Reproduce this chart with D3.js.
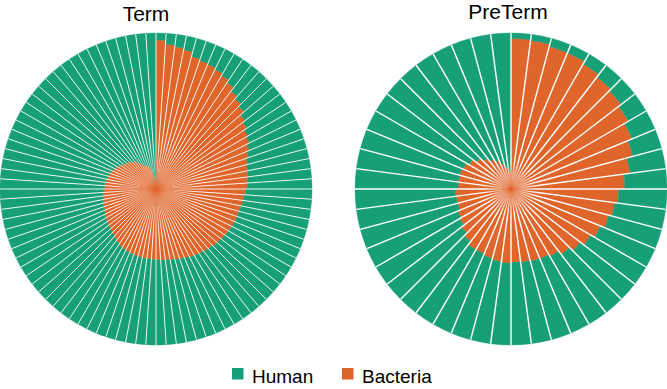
<html>
  <head>
    <script src="https://d3js.org/d3.v7.min.js"></script>
    <style>
      body{margin:0;background:#fff;}
      text{font-family:"Liberation Sans",Arial,sans-serif;}
    </style>
  </head>
  <body>
    <script>
      // bacteria share per sample, clockwise from 12 o'clock (human = 1 - bacteria)
      var termBacteria=[0.955,0.93,0.92,0.91,0.88,0.87,0.865,0.855,0.84,0.82,0.79,0.77,
                        0.75,0.72,0.70,0.68,0.67,0.65,0.63,0.61,0.60,0.595,0.59,0.585,
                        0.575,0.565,0.56,0.555,0.55,0.548,0.545,0.54,0.535,0.53,0.525,0.52,
                        0.51,0.505,0.50,0.495,0.49,0.48,0.475,0.47,0.465,0.46,0.458,0.455,
                        0.453,0.45,0.45,0.448,0.445,0.443,0.44,0.435,0.43,0.42,0.41,0.40,
                        0.39,0.385,0.38,0.375,0.37,0.36,0.355,0.35,0.345,0.34,0.34,0.335,
                        0.33,0.33,0.325,0.32,0.315,0.31,0.30,0.29,0.28,0.265,0.255,0.245,
                        0.235,0.225,0.21,0.19,0.175,0.165,0.155,0.15,0.13,0.10,0.08,0.05];
      var pretermBacteria=[0.965,0.96,0.946,0.944,0.925,0.905,0.89,0.87,0.84,0.81,0.77,0.73,
                           0.69,0.67,0.65,0.62,0.59,0.56,0.53,0.50,0.485,0.48,0.475,0.47,
                           0.475,0.47,0.46,0.45,0.45,0.425,0.40,0.38,0.37,0.355,0.355,0.355,
                           0.34,0.34,0.34,0.33,0.31,0.28,0.25,0.22,0.20,0.17,0.14,0.12];
      var groups=["Term","PreTerm"];
      var legendLabels=["Human","Bacteria"];
      var colors={Human:"#17a077",Bacteria:"#e0652b"};

      var svg=d3.select('body').append('svg')
                .attr('width',667)
                .attr('height',389);
      var defs=svg.append('defs');

      function drawPolar(values,cx,cy,radius,title,tx,ty,sw,fadeR,id)
      {
        var g=svg.append('g').attr('transform','translate('+cx+','+cy+')');
        var ang=d3.scaleBand().domain(d3.range(values.length)).range([0,2*Math.PI]).padding(0);
        var rad=d3.scaleLinear().domain([0,1]).range([0,radius]);
        var arc=d3.arc();

        values.forEach(function(b,i){
          var a0=ang(i),a1=a0+ang.bandwidth();
          g.append('path')
           .attr('d',arc({innerRadius:0,outerRadius:rad(b),startAngle:a0,endAngle:a1}))
           .attr('fill',colors.Bacteria)
           .attr('stroke',colors.Bacteria).attr('stroke-width',0.4);
          g.append('path')
           .attr('d',arc({innerRadius:rad(b),outerRadius:rad(1),startAngle:a0,endAngle:a1}))
           .attr('fill',colors.Human)
           .attr('stroke',colors.Human).attr('stroke-width',0.4);
        });

        // separators fade out towards the centre where they pile up
        var grad=defs.append('radialGradient').attr('id','fade'+id)
                     .attr('gradientUnits','userSpaceOnUse')
                     .attr('cx',0).attr('cy',0).attr('r',radius);
        grad.append('stop').attr('offset',0).attr('stop-color','#000');
        grad.append('stop').attr('offset',fadeR/radius).attr('stop-color','#fff');
        grad.append('stop').attr('offset',1).attr('stop-color','#fff');
        var mask=defs.append('mask').attr('id','mask'+id)
                     .attr('maskUnits','userSpaceOnUse')
                     .attr('x',-radius-5).attr('y',-radius-5)
                     .attr('width',2*radius+10).attr('height',2*radius+10);
        mask.append('circle').attr('r',radius+5).attr('fill','url(#fade'+id+')');

        var lines=g.append('g').attr('mask','url(#mask'+id+')');
        values.forEach(function(b,i){
          var a=ang(i);
          lines.append('line')
           .attr('x1',0).attr('y1',0)
           .attr('x2',Math.sin(a)*rad(1)).attr('y2',-Math.cos(a)*rad(1))
           .attr('stroke','white').attr('stroke-width',sw);
        });

        svg.append('text')
           .attr('x',tx).attr('y',ty)
           .attr('text-anchor','middle')
           .attr('font-size',21)
           .attr('fill','#000')
           .text(title);
      }

      drawPolar(termBacteria,156,189,156,groups[0],146,21,0.9,45,'a');
      drawPolar(pretermBacteria,511,189,156,groups[1],508,19,1.4,28,'b');

      // legend
      var leg=svg.append('g');
      var legX=[232,342];
      legendLabels.forEach(function(l,i){
        leg.append('rect')
           .attr('x',legX[i]).attr('y',368)
           .attr('width',11.5).attr('height',11.5)
           .attr('fill',colors[l]);
        leg.append('text')
           .attr('x',legX[i]+20).attr('y',383)
           .attr('font-size',19)
           .attr('fill','#000')
           .text(l);
      });
    </script>
  </body>
</html>
